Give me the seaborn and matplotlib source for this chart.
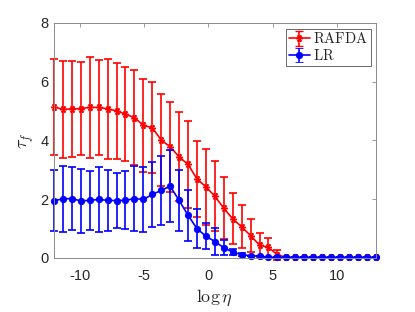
import numpy as np
import pandas as pd
import matplotlib
matplotlib.use("Agg")
import matplotlib.pyplot as plt
import seaborn as sns

# log(eta) grid, 37 settings from -12 to 13
log_eta = np.linspace(-12, 13, 37)

rafda_mean = [5.14, 5.05, 5.07, 5.08, 5.12, 5.12, 5.07, 5.00, 4.89, 4.77,
              4.51, 4.43, 4.01, 3.78, 3.44, 3.18, 2.69, 2.42, 2.10, 1.69,
              1.33, 1.06, 0.76, 0.44, 0.36, 0.11, 0.02, 0.02, 0.02, 0.02,
              0.02, 0.02, 0.02, 0.02, 0.02, 0.02, 0.02]
rafda_err = [1.64, 1.64, 1.62, 1.57, 1.71, 1.62, 1.71, 1.62, 1.60, 1.62,
             1.58, 1.54, 1.57, 1.53, 1.51, 1.48, 1.29, 1.30, 1.19, 1.05,
             0.87, 0.73, 0.55, 0.42, 0.32, 0.17, 0.0, 0.0, 0.0, 0.0,
             0.0, 0.0, 0.0, 0.0, 0.0, 0.0, 0.0]

lr_mean = [1.95, 2.01, 2.02, 1.94, 1.96, 1.99, 1.96, 1.95, 1.96, 2.02,
           1.99, 2.16, 2.30, 2.44, 1.96, 1.45, 1.00, 0.74, 0.56, 0.35,
           0.20, 0.11, 0.08, 0.06, 0.03, 0.02, 0.02, 0.02, 0.02, 0.02,
           0.02, 0.02, 0.02, 0.02, 0.02, 0.02, 0.02]
lr_err = [1.04, 1.13, 1.06, 1.08, 1.01, 1.09, 1.03, 0.94, 0.99, 1.10,
          1.12, 1.09, 1.18, 1.22, 1.04, 0.87, 0.66, 0.45, 0.45, 0.26,
          0.11, 0.05, 0.0, 0.0, 0.0, 0.0, 0.0, 0.0, 0.0, 0.0,
          0.0, 0.0, 0.0, 0.0, 0.0, 0.0, 0.0]

sns.set_theme(style="white")
plt.rcParams["mathtext.fontset"] = "cm"
plt.rcParams["axes.unicode_minus"] = False
plt.rcParams["font.family"] = ["Liberation Sans", "DejaVu Sans"]

df = pd.DataFrame({"x": np.concatenate([log_eta, log_eta]),
                   "y": rafda_mean + lr_mean,
                   "method": ["RAFDA"] * 37 + ["LR"] * 37})

fig = plt.figure(figsize=(4.15, 3.12), dpi=100)
ax = fig.add_axes([0.1301, 0.1731, 0.7752, 0.7542])

grey = "#8a8a8a"
lw = 1.2
styles = {"RAFDA": dict(color="#ff0000", marker=(6, 2, 90), ms=5, mew=1.0),
          "LR": dict(color="#0000ff", marker="o", ms=4.6, mew=0.6)}
errs = {"RAFDA": (rafda_mean, rafda_err), "LR": (lr_mean, lr_err)}

handles = []
for name in ["RAFDA", "LR"]:
    st = styles[name]
    m, e = errs[name]
    ax.errorbar(log_eta, m, yerr=e, fmt="none", ecolor=st["color"],
                elinewidth=lw, capsize=3, capthick=lw, clip_on=False)
    sns.lineplot(data=df[df.method == name], x="x", y="y", ax=ax,
                 color=st["color"], marker=st["marker"], markersize=st["ms"],
                 markeredgecolor=st["color"], markeredgewidth=st["mew"],
                 linewidth=lw, legend=False, clip_on=False)
    h = ax.errorbar([np.nan], [np.nan], yerr=[np.nan], color=st["color"],
                    marker=st["marker"], ms=st["ms"], mec=st["color"], mew=st["mew"],
                    lw=lw, elinewidth=lw, capsize=3, capthick=lw, label=name)
    handles.append(h)

ax.set_xlim(-12, 13)
ax.set_ylim(0, 8)
ax.set_xticks([-10, -5, 0, 5, 10])
ax.set_yticks([0, 2, 4, 6, 8])
ax.tick_params(direction="in", length=3, width=0.6, color=grey,
               top=True, right=True, labelsize=10.5, labelcolor="#262626")
ax.tick_params(axis="x", pad=8)
ax.tick_params(axis="y", pad=4)
for s in ax.spines.values():
    s.set_color(grey)
    s.set_linewidth(0.7)

ax.set_xlabel(r"$\log\eta$", fontsize=13, color="#262626", labelpad=3)
ax.set_ylabel(r"$\tau_f$", fontsize=13, color="#262626", labelpad=3)

leg = ax.legend(handles=handles, labels=[r"$\mathrm{RAFDA}$", r"$\mathrm{LR}$"],
                loc="upper right", bbox_to_anchor=(0.985, 0.975), fontsize=10.5,
                frameon=True, fancybox=False, borderpad=0.2, handlelength=1.4,
                handletextpad=0.25, labelspacing=0.1, borderaxespad=0)
leg.get_frame().set_edgecolor("#262626")
leg.get_frame().set_linewidth(0.6)

fig.savefig("out.png", dpi=100)
